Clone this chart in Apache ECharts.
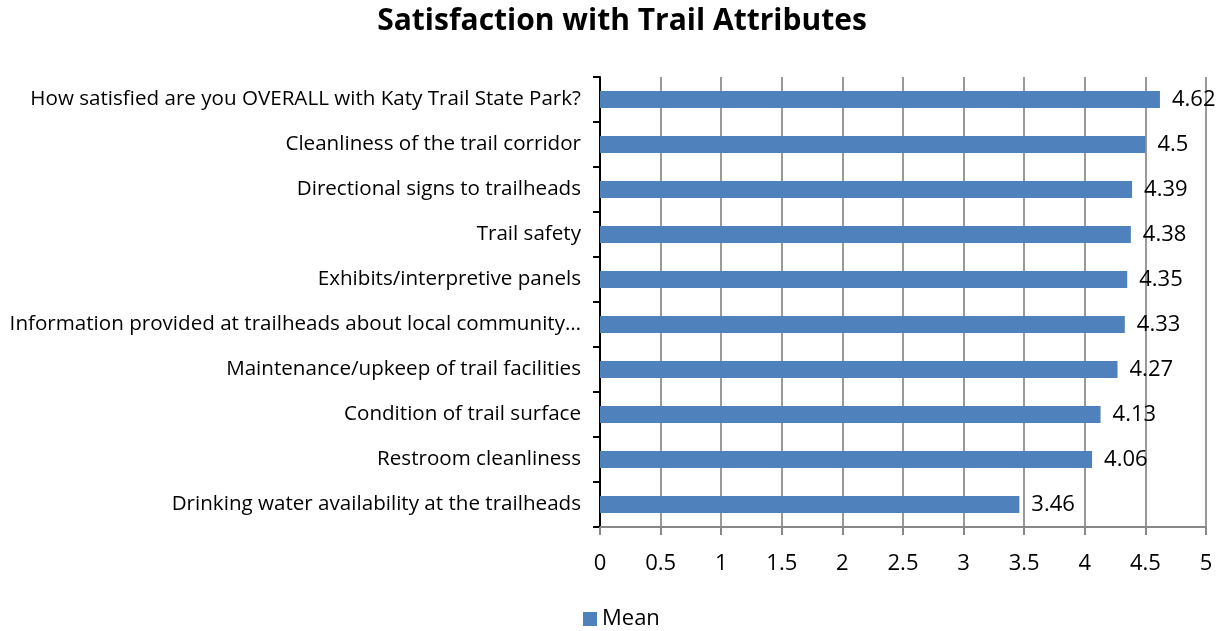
<!DOCTYPE html>
<html>
<head>
<meta charset="utf-8">
<script src="https://cdn.jsdelivr.net/npm/echarts@6/dist/echarts.min.js"></script>
<style>
  html, body { margin: 0; padding: 0; background: #fff; }
  #chart { width: 1232px; height: 631px; }
</style>
</head>
<body>
<div id="chart"></div>
<script>
// attributes, top to bottom
const categories = [
  'How satisfied are you OVERALL with Katy Trail State Park?',
  'Cleanliness of the trail corridor',
  'Directional signs to trailheads',
  'Trail safety',
  'Exhibits/interpretive panels',
  'Information provided at trailheads about local community…',
  'Maintenance/upkeep of trail facilities',
  'Condition of trail surface',
  'Restroom cleanliness',
  'Drinking water availability at the trailheads'
]
const meanValues = [4.62, 4.5, 4.39, 4.38, 4.35, 4.33, 4.27, 4.13, 4.06, 3.46]
const xTicks = { min: 0, max: 5, interval: 0.5 }

const font = '"Open Sans", sans-serif'
const chart = echarts.init(document.getElementById('chart'))

const option = {
  animation: false,
  title: {
    text: 'Satisfaction with Trail Attributes',
    left: 617,
    textAlign: 'center',
    top: 1,
    textStyle: { fontFamily: font, fontSize: 30, fontWeight: 'bold', color: '#000' }
  },
  legend: {
    bottom: -4,
    left: 578,
    itemWidth: 14,
    itemHeight: 14,
    itemGap: 6,
    icon: 'rect',
    textStyle: { fontFamily: font, fontSize: 22, color: '#000' },
    data: ['Mean']
  },
  grid: {
    left: 600,
    right: 26,
    top: 77,
    bottom: 104,
    outerBoundsMode: 'none'
  },
  xAxis: {
    type: 'value',
    min: xTicks.min,
    max: xTicks.max,
    interval: xTicks.interval,
    axisLine: { show: true, lineStyle: { color: '#888', width: 2 } },
    axisTick: { show: true, length: 8, lineStyle: { color: '#888', width: 2 } },
    axisLabel: { fontFamily: font, fontSize: 22, color: '#000', margin: 26 },
    splitLine: { show: true, lineStyle: { color: '#999', width: 2 } }
  },
  yAxis: {
    type: 'category',
    inverse: true,
    data: categories,
    axisLine: { show: true, lineStyle: { color: '#000', width: 2 } },
    axisTick: { show: true, length: 7, lineStyle: { color: '#000', width: 2 } },
    axisLabel: { fontFamily: font, fontSize: 20.6, color: '#000', margin: 19 },
    splitLine: { show: false }
  },
  series: [
    {
      name: 'Mean',
      type: 'bar',
      data: meanValues,
      barWidth: 17,
      itemStyle: { color: '#4F81BD' },
      label: {
        show: true,
        position: 'right',
        distance: 12,
        fontFamily: font,
        fontSize: 22,
        color: '#000'
      }
    }
  ]
}

chart.setOption(option)
</script>
</body>
</html>
